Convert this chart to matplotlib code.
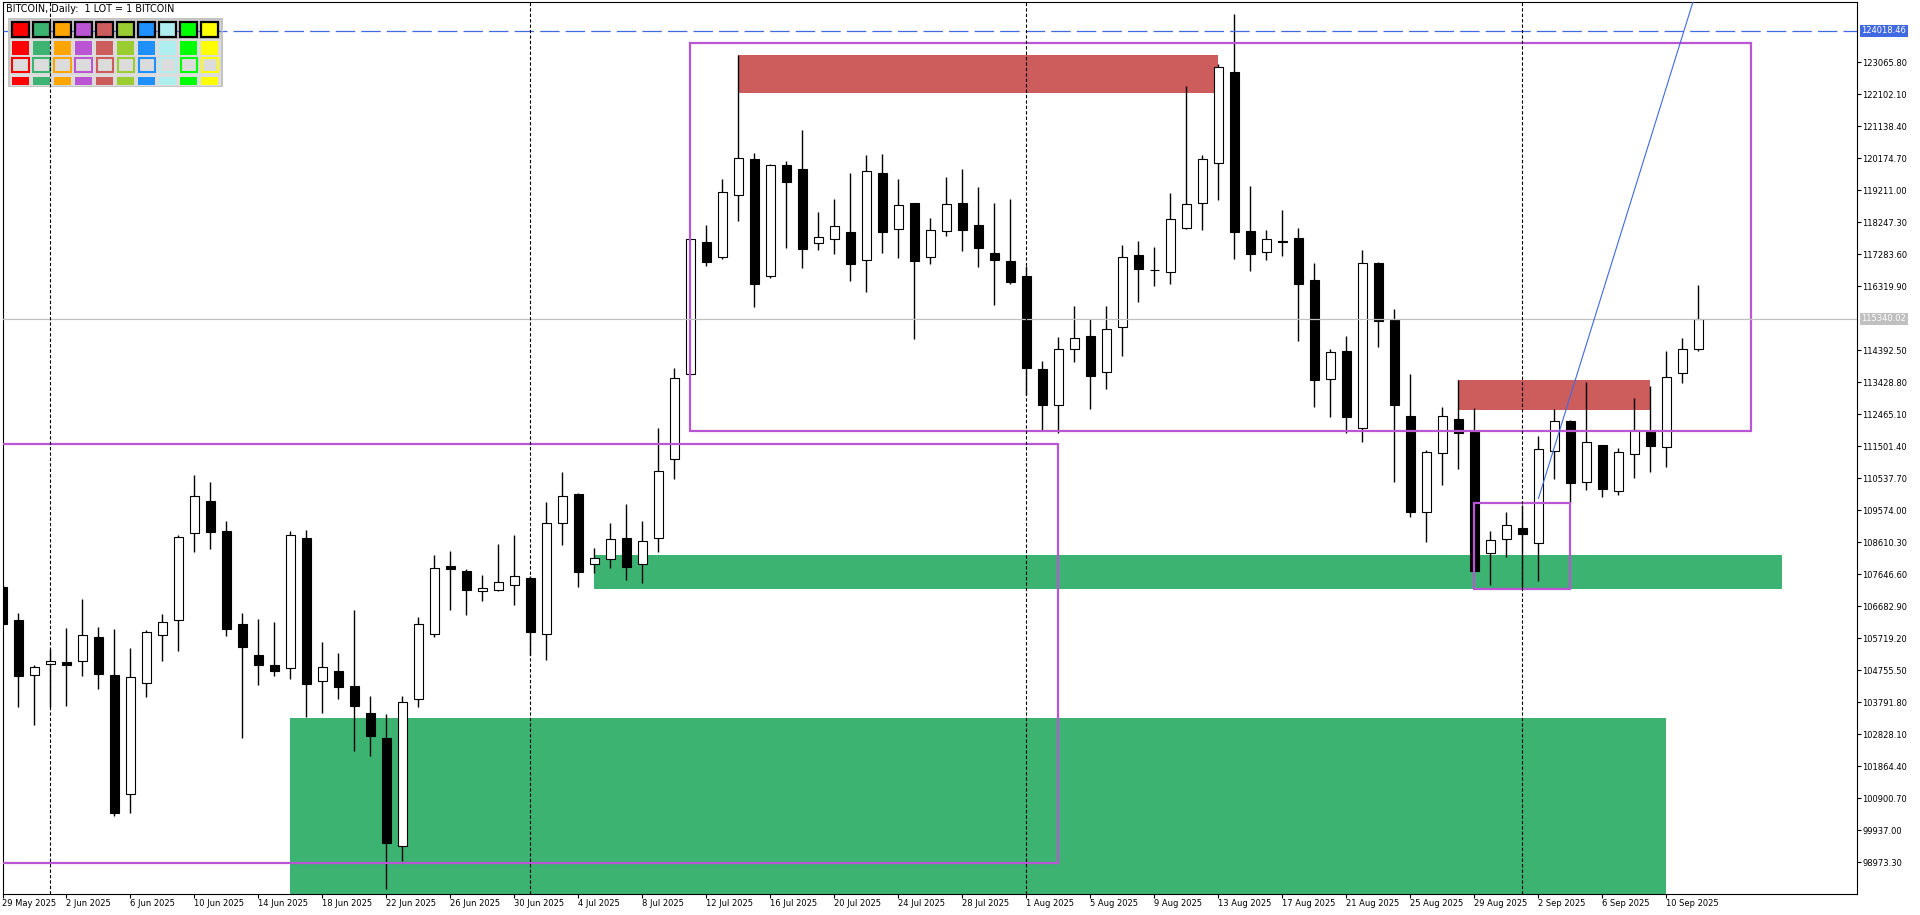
import matplotlib
matplotlib.use('Agg')
import matplotlib.pyplot as plt
from matplotlib.patches import Rectangle
from matplotlib.transforms import Affine2D, offset_copy
from matplotlib import font_manager as fm

# ---------------- data ----------------
opens = [107273, 106270, 104623, 104936, 105005, 105026, 105749, 104605, 101021, 104364,
         105809, 106261, 108881, 109845, 108950, 106150, 105207, 104906, 104815, 108740,
         104442, 104734, 104282, 103469, 102716, 99455, 103882, 105857, 107896, 107746,
         107134, 107164, 107315, 107535, 105839, 109182, 110065, 107948, 108098, 108731,
         107948, 108731, 111110, 113670, 117654, 117193, 119060, 120145, 116621, 119964,
         119843, 117615, 117735, 117946, 117103, 119732, 118036, 118819, 117193, 117976,
         118819, 118157, 117314, 117073, 116630, 113829, 112736, 114422, 114823, 113730,
         115085, 117262, 116811, 116747, 118069, 118822, 120027, 122771, 117973, 117359,
         117672, 117777, 116510, 113519, 114368, 112067, 117010, 115305, 112411, 109508,
         111293, 112320, 111941, 108279, 108700, 109041, 108580, 111351, 112250, 110417,
         111530, 110146, 111260, 111941, 111471, 113700, 114441]
highs = [107324, 106481, 104906, 105388, 106020, 106893, 106050, 105990, 105418, 105960,
         106451, 108821, 110637, 110426, 109252, 106481, 106300, 106210, 108950, 108981,
         105608, 105276, 106571, 103981, 103439, 103981, 106360, 108228, 108348, 107797,
         107625, 108559, 108830, 107595, 109824, 110727, 110095, 108429, 109182, 109764,
         109252, 112052, 113859, 117744, 118166, 119551, 123286, 120325, 120003, 120084,
         121018, 118548, 118949, 119732, 120265, 120304, 119551, 118830, 118377, 119611,
         119852, 119310, 118828, 118949, 116931, 114070, 114793, 115727, 115335, 115727,
         117564, 117684, 117503, 119133, 122352, 120262, 123006, 124523, 119340, 118015,
         118606, 118079, 117024, 114435, 114820, 117413, 117037, 115639, 113682, 111390,
         112682, 113498, 112655, 108950, 109523, 109733, 111811, 112625, 112293, 113438,
         111540, 111441, 112956, 113317, 114371, 114763, 116359]
lows = [106119, 103659, 103117, 103659, 103689, 104593, 104201, 100376, 100467, 103960,
        105044, 105346, 108327, 108417, 105797, 102725, 104322, 104593, 104502, 103349,
        103478, 103900, 102334, 102183, 98178, 99021, 103659, 105767, 106571, 106430,
        106851, 107158, 106731, 105216, 105074, 108538, 107273, 107695, 107845, 107475,
        107393, 108318, 110525, 113648, 116940, 117151, 118295, 115705, 116579, 117482,
        116880, 117422, 117302, 116488, 116157, 117332, 117181, 114742, 117000, 117844,
        117392, 116910, 115766, 116398, 113046, 111992, 111893, 114049, 112634, 113236,
        114230, 115856, 116338, 116401, 118060, 118027, 118931, 117154, 116790, 117124,
        117241, 114681, 112691, 112369, 111905, 111637, 114498, 110411, 109357, 108625,
        110348, 110827, 107745, 107333, 108176, 107225, 107454, 110525, 109803, 110176,
        109983, 110044, 110556, 110736, 110887, 113417, 114380]
closes = [106159, 104593, 104846, 105035, 104924, 105809, 104653, 100467, 104545, 105900,
          106201, 108761, 109995, 108929, 106008, 105466, 104924, 104743, 108821, 104352,
          104846, 104261, 103689, 102786, 99545, 103792, 106141, 107827, 107815, 107183,
          107225, 107405, 107586, 105918, 109182, 109995, 107725, 108128, 108700, 107875,
          108640, 110748, 113549, 117735, 117061, 119151, 120175, 116398, 119964, 119470,
          117452, 117795, 118127, 116982, 119783, 117964, 118759, 117091, 118006, 118789,
          118024, 117482, 117121, 116458, 113868, 112736, 114422, 114754, 113627, 115025,
          117193, 116850, 116800, 118338, 118789, 120145, 122921, 117961, 117305, 117735,
          117665, 116401, 113510, 114338, 112369, 117015, 115284, 112757, 109508, 111315,
          112402, 111893, 107755, 108670, 109122, 108869, 111411, 112254, 110387, 111622,
          110206, 111321, 111992, 111519, 113579, 114422, 115340.02]

date_tick_idx = list(range(0, 105, 4))
date_labels = ['29 May 2025', '2 Jun 2025', '6 Jun 2025', '10 Jun 2025', '14 Jun 2025',
               '18 Jun 2025', '22 Jun 2025', '26 Jun 2025', '30 Jun 2025', '4 Jul 2025',
               '8 Jul 2025', '12 Jul 2025', '16 Jul 2025', '20 Jul 2025', '24 Jul 2025',
               '28 Jul 2025', '1 Aug 2025', '5 Aug 2025', '9 Aug 2025', '13 Aug 2025',
               '17 Aug 2025', '21 Aug 2025', '25 Aug 2025', '29 Aug 2025', '2 Sep 2025',
               '6 Sep 2025', '10 Sep 2025']
price_ticks = [98973.30, 99937.00, 100900.70, 101864.40, 102828.10, 103791.80, 104755.50,
               105719.20, 106682.90, 107646.60, 108610.30, 109574.00, 110537.70, 111501.40,
               112465.10, 113428.80, 114392.50, 116319.90, 117283.60, 118247.30, 119211.00,
               120174.70, 121138.40, 122102.10, 123065.80]
month_separators = [3, 33, 64, 95]
bid_price = 115340.02
level_price = 124018.46

# zones: (x0, x1, y_low, y_high)
green_zones = [(18, 104, 97000, 103319), (37, 111.2, 107213, 108228)]
red_zones = [(46, 76, 122156, 123286), (91, 103, 112594, 113498)]
purple_boxes = [(-5, 66, 98961, 111580), (43, 109.3, 111965, 123650), (92, 98, 107213, 109794)]
trend_x = [96, 106]
trend_y = [109935, 125415]

legend_colors = ['#FF0000', '#3CB371', '#FFA500', '#BA55D3', '#CD5C5C',
                 '#9ACD32', '#1E90FF', '#AFEEEE', '#00FF00', '#FFFF00']
title_text = 'BITCOIN, Daily:  1 LOT = 1 BITCOIN'

# ---------------- fonts ----------------
try:
    fm.findfont('Liberation Sans Narrow', fallback_to_default=False)
    FONT, FS = 'Liberation Sans Narrow', 7.8
except Exception:
    FONT, FS = 'DejaVu Sans', 6.0
plt.rcParams['font.family'] = [FONT, 'DejaVu Sans']
plt.rcParams['lines.scale_dashes'] = False

# ---------------- figure ----------------
W, H = 1920, 915
fig = plt.figure(figsize=(W / 100, H / 100), dpi=100)
fig.patch.set_facecolor('white')
L, R, T, B = 2.5, 1857, 2, 894
ax = fig.add_axes([L / W, 1 - B / H, (R - L) / W, (B - T) / H])
ax.set_xlim(0.006, 115.91)
ax.set_ylim(98018, 124882)
ax.set_facecolor('white')
for s in ax.spines.values():
    s.set_linewidth(0.8)
    s.set_color('black')

pix = Affine2D().scale(1 / W, -1 / H).translate(0, 1) + fig.transFigure

# zones
for x0, x1, y0, y1 in green_zones:
    ax.add_patch(Rectangle((x0, y0), x1 - x0, y1 - y0, facecolor='#3CB371', edgecolor='none', zorder=1))
for x0, x1, y0, y1 in red_zones:
    ax.add_patch(Rectangle((x0, y0), x1 - x0, y1 - y0, facecolor='#CD5C5C', edgecolor='none', zorder=1))

# candles
bw = 0.6
for i, (o, h, l, c) in enumerate(zip(opens, highs, lows, closes)):
    ax.vlines(i, l, h, color='black', lw=1.0, zorder=3)
    up = c >= o
    ax.add_patch(Rectangle((i - bw / 2, min(o, c)), bw, abs(c - o),
                           facecolor='white' if up else 'black', edgecolor='black',
                           lw=0.8, zorder=4))

# purple boxes
for x0, x1, y0, y1 in purple_boxes:
    ax.add_patch(Rectangle((x0, y0), x1 - x0, y1 - y0, facecolor='none', edgecolor='#BA55D3',
                           lw=1.6, zorder=5))

# bid line and level line
ax.axhline(bid_price, color='#C0C0C0', lw=0.9, zorder=5)
ax.axhline(level_price, color='#4169E1', lw=0.9, zorder=5, dashes=(14, 4.4))
ax.plot(trend_x, trend_y, color='#4169E1', lw=0.8, zorder=6)

# legend panel (pixel coordinates)
ax.add_patch(Rectangle((8, 18), 215, 69, facecolor='#C4C4C4', edgecolor='none',
                       transform=pix, clip_on=False, zorder=6))
ax.add_patch(Rectangle((10, 20), 211, 18, facecolor='#D0D0D0', edgecolor='none',
                       transform=pix, clip_on=False, zorder=6))
ax.add_patch(Rectangle((10, 39), 211, 47, facecolor='#DCDCDC', edgecolor='none',
                       transform=pix, clip_on=False, zorder=6))
ax.plot([10, 221], [30.5, 30.5], color='#4169E1', lw=0.9, dashes=(14, 4.4),
        transform=pix, clip_on=False, zorder=6.5)
for j, col in enumerate(legend_colors):
    x0 = 12 + 21.05 * j
    ax.add_patch(Rectangle((x0, 22), 16.5, 15, facecolor=col, edgecolor='black', lw=1.6,
                           transform=pix, clip_on=False, zorder=7))
    ax.add_patch(Rectangle((x0 - 0.5, 40.5), 17.5, 14.5, facecolor=col, edgecolor='none',
                           transform=pix, clip_on=False, zorder=7))
    ax.add_patch(Rectangle((x0 + 0.3, 58), 16.5, 14, facecolor='#DCDCDC', edgecolor=col, lw=1.5,
                           transform=pix, clip_on=False, zorder=7))
    ax.add_patch(Rectangle((x0 - 0.5, 76.5), 17.5, 8.5, facecolor=col, edgecolor='none',
                           transform=pix, clip_on=False, zorder=7))
ax.text(6, 8.5, title_text, transform=pix, fontsize=FS * 1.15, va='center', ha='left',
        color='black', zorder=7)

# month separators
for m in month_separators:
    ax.axvline(m, color='black', lw=0.8, dashes=(2.4, 1.5), zorder=8)

# axes ticks
ax.yaxis.tick_right()
ax.set_yticks(price_ticks)
ax.set_yticklabels(['%.2f' % v for v in price_ticks])
ax.set_xticks(date_tick_idx)
ax.set_xticklabels(date_labels)
for lab in ax.get_xticklabels():
    lab.set_ha('left')
ax.tick_params(axis='both', direction='out', length=3, width=0.8, labelsize=FS, pad=1.0,
               colors='black')
ax.tick_params(axis='x', pad=0.6)

# price boxes on the right scale
box_tr = offset_copy(ax.get_yaxis_transform(), fig=fig, x=4.5, y=0, units='dots')
ax.text(1.0, level_price, '%.2f' % level_price, transform=box_tr, fontsize=FS, color='white',
        va='center', ha='left', clip_on=False, zorder=9,
        bbox=dict(boxstyle='square,pad=0.18', facecolor='#4169E1', edgecolor='none'))
ax.text(1.0, bid_price, '%.2f' % bid_price, transform=box_tr, fontsize=FS, color='white',
        va='center', ha='left', clip_on=False, zorder=9,
        bbox=dict(boxstyle='square,pad=0.18', facecolor='#C0C0C0', edgecolor='none'))

fig.savefig('out.png', dpi=100, facecolor='white')
